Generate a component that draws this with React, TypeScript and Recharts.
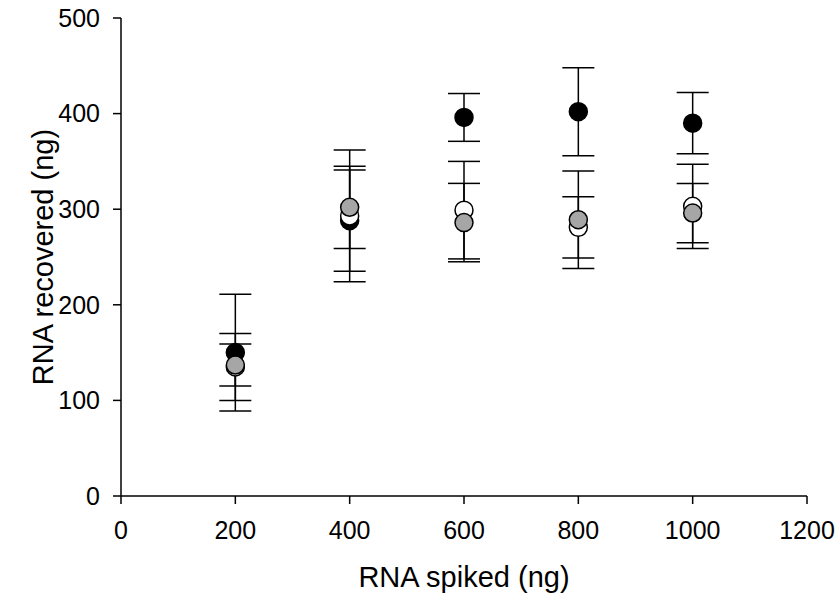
import React from 'react'
import { ScatterChart, Scatter, XAxis, YAxis, ErrorBar, Label } from 'recharts'

const spiked = [200, 400, 600, 800, 1000]
const blackMeans = [150, 288, 396, 402, 390]
const blackErrs = [61, 53, 25, 46, 32]
const whiteMeans = [135, 293, 299, 281, 303]
const whiteErrs = [35, 69, 51, 32, 44]
const grayMeans = [137, 302, 286, 289, 296]
const grayErrs = [22, 43, 41, 51, 31]

const xTicks = [0, 200, 400, 600, 800, 1000, 1200]
const yTicks = [0, 100, 200, 300, 400, 500]

const toRows = (means: number[], errs: number[]) =>
  spiked.map((x, i) => ({ x, y: means[i], err: errs[i] }))

const blackData = toRows(blackMeans, blackErrs)
const whiteData = toRows(whiteMeans, whiteErrs)
const grayData = toRows(grayMeans, grayErrs)

const font = '"Liberation Sans", Arial, sans-serif'

const dot = (fill: string) => (props: any) => (
  <circle cx={props.cx} cy={props.cy} r={9} fill={fill} stroke="#000" strokeWidth={1.5} />
)

// axis titles drawn by hand so they sit where the original has them
const YTitle = (props: any) => {
  const { viewBox } = props
  const cx = viewBox.x - 8
  const cy = viewBox.y + viewBox.height / 2
  return (
    <text x={cx} y={cy} transform={`rotate(-90 ${cx} ${cy})`} textAnchor="middle" dominantBaseline="central"
      fontSize={29} fontFamily={font} fill="#000">
      RNA recovered (ng)
    </text>
  )
}

const XTitle = (props: any) => {
  const { viewBox } = props
  return (
    <text x={viewBox.x + viewBox.width / 2} y={viewBox.y + 81} textAnchor="middle" dominantBaseline="central"
      fontSize={29} fontFamily={font} fill="#000">
      RNA spiked (ng)
    </text>
  )
}

export default function App() {
  return (
    <div style={{ position: 'absolute', left: 0, top: 0, width: 836, height: 597, background: '#fff' }}>
      <ScatterChart width={836} height={597} margin={{ top: 18, right: 29, left: 51, bottom: 0 }}>
        <XAxis type="number" dataKey="x" domain={[0, 1200]} ticks={xTicks} height={101}
          stroke="#000" strokeWidth={1.5} tickSize={8} tickMargin={17}
          tick={{ fill: '#000', fontSize: 25, fontFamily: font }}>
          <Label content={XTitle} />
        </XAxis>
        <YAxis type="number" dataKey="y" domain={[0, 500]} ticks={yTicks} width={70}
          stroke="#000" strokeWidth={1.5} tickSize={8} tickMargin={13}
          tick={{ fill: '#000', fontSize: 25, fontFamily: font }}>
          <Label content={YTitle} />
        </YAxis>
        <Scatter data={blackData} shape={dot('#000')} isAnimationActive={false}>
          <ErrorBar dataKey="err" direction="y" width={16} stroke="#000" strokeWidth={1.5} />
        </Scatter>
        <Scatter data={whiteData} shape={dot('#fff')} isAnimationActive={false}>
          <ErrorBar dataKey="err" direction="y" width={16} stroke="#000" strokeWidth={1.5} />
        </Scatter>
        <Scatter data={grayData} shape={dot('#a6a6a6')} isAnimationActive={false}>
          <ErrorBar dataKey="err" direction="y" width={16} stroke="#000" strokeWidth={1.5} />
        </Scatter>
      </ScatterChart>
    </div>
  )
}
